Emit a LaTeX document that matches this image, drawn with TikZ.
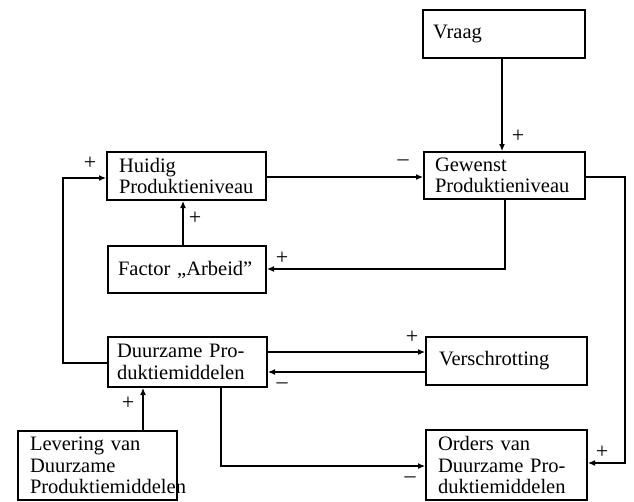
\documentclass[tikz,border=0pt]{standalone}
\usepackage{fontspec}
\setmainfont{Liberation Serif}
\usetikzlibrary{arrows.meta}
\begin{document}
\begin{tikzpicture}[x=1pt,y=-1pt,
  box/.style={draw,line width=2pt,rectangle,inner sep=0pt,align=left,font=\fontsize{20.5}{21.5}\selectfont},
  conn/.style={line width=1.1pt,-{Latex[length=7pt,width=6pt]}},
  lbl/.style={font=\fontsize{22}{22}\selectfont,inner sep=0pt}]
\useasboundingbox (0,0) rectangle (634,501);
\node[box,minimum width=162pt,minimum height=48pt,text width=142pt] (vraag) at (504,34) {Vraag};
\node[box,minimum width=161pt,minimum height=47pt,text width=139pt] (gewenst) at (504.5,175.5) {Gewenst\\Produktieniveau};
\node[box,minimum width=159pt,minimum height=48pt,text width=135pt] (huidig) at (186.5,176) {Huidig\\Produktieniveau};
\node[box,minimum width=158pt,minimum height=47pt,text width=138pt] (factor) at (187,269.5) {Factor ,,Arbeid''};
\node[box,minimum width=159pt,minimum height=50pt,text width=141pt] (duur) at (187.5,362) {Duurzame Pro-\\duktiemiddelen};
\node[box,minimum width=161pt,minimum height=48pt,text width=135pt] (versch) at (506.5,361) {Verschrotting};
\node[box,minimum width=161pt,minimum height=70pt,text width=137pt] (orders) at (506.5,465) {Orders van\\Duurzame Pro-\\duktiemiddelen};
\node[box,minimum width=159pt,minimum height=69pt,text width=135pt] (lever) at (97.5,465.5) {Levering van\\Duurzame\\Produktiemiddelen};
% connectors
\draw[conn] (vraag.south -| 502,0) -- (gewenst.north -| 502,0);
\draw[conn] (huidig.east |- 0,177) -- (gewenst.west |- 0,177);
\coordinate (g1) at (505,269);
\draw[conn] (gewenst.south -| g1) -- (g1) -- (factor.east |- g1);
\draw[conn] (factor.north -| 183,0) -- (huidig.south -| 183,0);
\coordinate (r1) at (625,177);
\coordinate (r2) at (625,463);
\draw[conn] (gewenst.east |- r1) -- (r1) -- (r2) -- (orders.east |- r2);
\draw[conn] (duur.east |- 0,352) -- (versch.west |- 0,352);
\draw[conn] (versch.west |- 0,372) -- (duur.east |- 0,372);
\coordinate (l1) at (63,363);
\coordinate (l2) at (63,178);
\draw[conn] (duur.west |- l1) -- (l1) -- (l2) -- (huidig.west |- l2);
\coordinate (d1) at (221,466);
\draw[conn] (duur.south -| d1) -- (d1) -- (orders.west |- d1);
\draw[conn] (lever.north -| 143,0) -- (duur.south -| 143,0);
% labels
\node[lbl] (p1) at (518,136) {+};
\node[lbl] (m1) at (403,163) {–};
\node[lbl] (p2) at (282,258) {+};
\node[lbl] (p3) at (195,218) {+};
\node[lbl] (p4) at (602,452) {+};
\node[lbl] (p5) at (412,337) {+};
\node[lbl] (m2) at (282,386) {–};
\node[lbl] (p6) at (90,163) {+};
\node[lbl] (m3) at (410,480) {–};
\node[lbl] (p7) at (128,403) {+};
\end{tikzpicture}
\end{document}
